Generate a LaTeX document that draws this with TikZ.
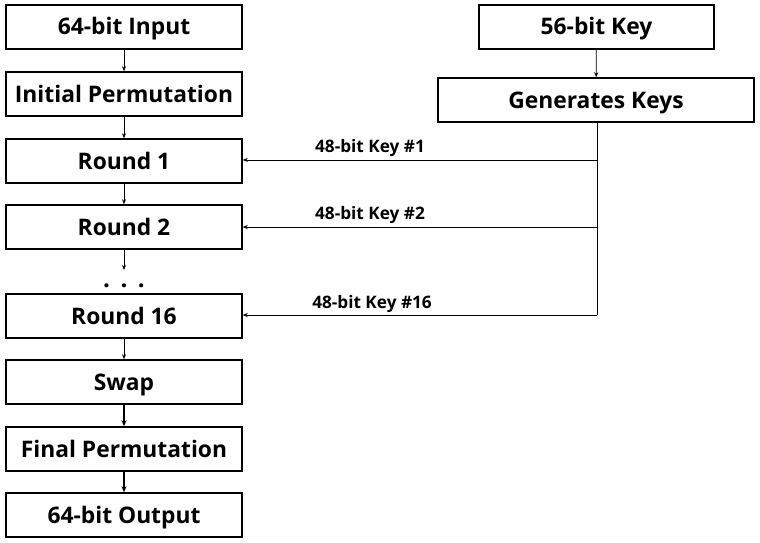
\documentclass[tikz,border=0pt]{standalone}
\usepackage{fontspec}
\setmainfont{Open Sans}
\usetikzlibrary{arrows.meta}
\begin{document}
\begin{tikzpicture}[x=1pt,y=-1pt,
  blk/.style={draw, line width=1.5pt, minimum height=44pt, inner sep=0pt,
    text height=18pt, text depth=2pt,
    font=\fontsize{22.8}{26}\selectfont\bfseries},
  lft/.style={blk, minimum width=236pt},
  conn/.style={line width=0.8pt, -{Stealth[length=5pt,width=4pt]}},
  connb/.style={line width=1.5pt, -{Stealth[length=6pt,width=5pt]}},
  lbl/.style={font=\fontsize{17.2}{20}\selectfont\bfseries, inner sep=0pt,
    text height=13.3pt, text depth=1pt}]
\useasboundingbox (0,0) rectangle (760,543);
\node[lft] (in) at (124,27) {64-bit Input};
\node[lft] (ip) at (124,94) {Initial Permutation};
\node[lft] (r1) at (124,161) {Round 1};
\node[lft] (r2) at (124,227) {Round 2};
\node[font=\fontsize{24}{26}\selectfont\bfseries, inner sep=0pt] (dots) at (124,286) {.\hspace{10.5pt}.\hspace{10.5pt}.};
\node[lft] (r16) at (124,316) {Round 16};
\node[lft] (sw) at (124,382) {Swap};
\node[lft] (fp) at (124,449) {Final Permutation};
\node[lft] (out) at (124,515) {64-bit Output};
\node[blk, minimum width=235pt] (key) at (596.5,27) {56-bit Key};
\node[blk, minimum width=316pt] (gen) at (596,100) {Generates Keys};
\coordinate (d) at (124,270);
\coordinate (k1) at (597,160);
\coordinate (k2) at (597,227);
\coordinate (k16) at (597,315);
\draw[conn] (in) -- (ip);
\draw[conn] (ip) -- (r1);
\draw[conn] (r1) -- (r2);
\draw[conn] (r2) -- (d);
\draw[conn] (r16) -- (sw);
\draw[connb] (sw) -- (fp);
\draw[connb] (fp) -- (out);
\draw[conn] (key) -- (gen);
\draw[line width=0.8pt] (gen.south -| k1) -- (k16);
\draw[conn] (k1) -- (r1.east |- k1);
\draw[conn] (k2) -- (r2.east |- k2);
\draw[conn] (k16) -- (r16.east |- k16);
\node[lbl] (l1) at (370,146) {48-bit Key \#1};
\node[lbl] (l2) at (370,213) {48-bit Key \#2};
\node[lbl] (l16) at (372,302) {48-bit Key \#16};
\end{tikzpicture}
\end{document}
